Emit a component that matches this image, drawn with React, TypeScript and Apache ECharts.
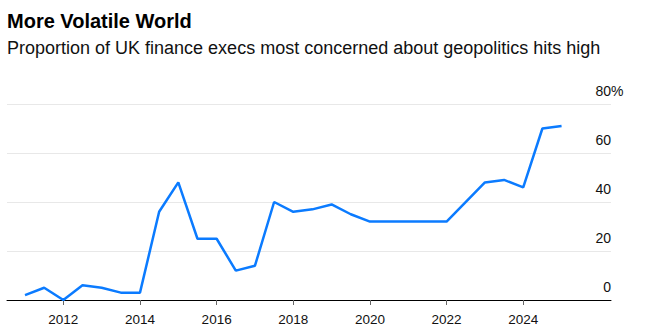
import React, { useEffect, useRef } from "react";
import * as echarts from "echarts";

const years = [2011, 2011.5, 2012, 2012.5, 2013, 2013.5, 2014, 2014.5, 2015, 2015.5, 2016, 2016.5, 2017, 2017.5, 2018, 2018.5, 2019, 2019.5, 2020, 2020.5, 2021, 2021.5, 2022, 2023, 2023.5, 2024, 2024.5, 2025];
const values = [2, 5, 0, 6, 5, 3, 3, 36, 48, 25, 25, 12, 14, 40, 36, 37, 39, 35, 32, 32, 32, 32, 32, 48, 49, 46, 70, 71];
const xTicks = [2012, 2014, 2016, 2018, 2020, 2022, 2024];
const yTicks = [0, 20, 40, 60, 80];
const title = "More Volatile World";
const subtitle = "Proportion of UK finance execs most concerned about geopolitics hits high";

const FONT = "'Liberation Sans', Arial, Helvetica, sans-serif";

export default function App() {
  const ref = useRef<HTMLDivElement>(null);
  useEffect(() => {
    const chart = echarts.init(ref.current!, null, { renderer: "svg" });
    chart.setOption({
      animation: false,
      backgroundColor: "#ffffff",
      title: [
        {
          text: title,
          left: 7,
          top: 11,
          padding: 0,
          textStyle: { fontFamily: FONT, fontSize: 20, fontWeight: "bold", color: "#000", lineHeight: 20 },
        },
        {
          text: subtitle,
          left: 7,
          top: 39,
          padding: 0,
          textStyle: { fontFamily: FONT, fontSize: 18, fontWeight: "normal", color: "#111", lineHeight: 18 },
        },
      ],
      grid: { left: 7, right: 44, top: 104, bottom: 34, containLabel: false },
      xAxis: {
        type: "value",
        min: 2010.53,
        max: 2026.29,
        axisLine: { show: true, onZero: false, lineStyle: { color: "#000", width: 1 } },
        axisTick: { show: true, length: 5, customValues: xTicks, lineStyle: { color: "#666", width: 1 } },
        axisLabel: {
          customValues: xTicks,
          fontFamily: FONT,
          fontSize: 13.5,
          color: "#111",
          margin: 12,
          formatter: (v: number) => String(v),
        },
        splitLine: { show: false },
      },
      yAxis: {
        type: "value",
        position: "right",
        min: 0,
        max: 80,
        interval: 20,
        axisLine: { show: false },
        axisTick: { show: false },
        splitLine: { show: true, lineStyle: { color: "#e8e8e8", width: 1 } },
        axisLabel: {
          inside: true,
          margin: 0,
          fontFamily: FONT,
          fontSize: 14,
          color: "#111",
          verticalAlign: "bottom",
          lineHeight: 14,
          padding: [0, 0, 6, 0],
          formatter: (v: number) => (yTicks.includes(v) ? String(v) : ""),
        },
      },
      graphic: [
        {
          type: "text",
          left: 611,
          top: 84,
          style: { text: "%", fontFamily: FONT, fontSize: 14, fill: "#111" },
        },
      ],
      series: [
        {
          type: "line",
          data: years.map((y, i) => [y, values[i]]),
          showSymbol: false,
          symbol: "none",
          lineStyle: { color: "#0b7bff", width: 2.5 },
          itemStyle: { color: "#0b7bff" },
        },
      ],
    });
    return () => chart.dispose();
  }, []);
  return <div ref={ref} style={{ width: 655, height: 334, position: "absolute", left: 0, top: 0 }} />;
}
